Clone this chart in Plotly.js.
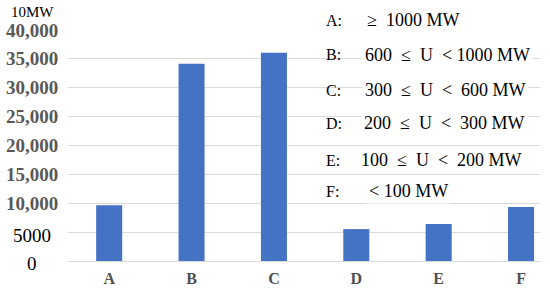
<!DOCTYPE html>
<html>
<head>
<meta charset="utf-8">
<script src="https://cdn.plot.ly/plotly-3.0.1.min.js"></script>
<style>html,body{margin:0;padding:0;background:#fff;}#chart{width:550px;height:295px;}</style>
</head>
<body>
<div id="chart"></div>
<script>
var categories = ['A', 'B', 'C', 'D', 'E', 'F'];
var capacity = [9600, 34000, 35900, 5500, 6400, 9300];
var tickValues = [0, 5000, 10000, 15000, 20000, 25000, 30000, 35000, 40000];
var tickLabels = ['0', '5000', '10,000', '15,000', '20,000', '25,000', '30,000', '35,000', '40,000'];
var unitLabel = '10MW';
var classLetters = ['A:', 'B:', 'C:', 'D:', 'E:', 'F:'];
var classRanges = [
  '\u2265\u00a0\u00a01000 MW',
  '600\u00a0\u00a0\u2264\u00a0\u00a0U\u00a0\u00a0<\u00a01000 MW',
  '300\u00a0\u00a0\u2264\u00a0\u00a0U\u00a0\u00a0<\u00a0\u00a0600 MW',
  '200\u00a0\u00a0\u2264\u00a0\u00a0U\u00a0\u00a0<\u00a0\u00a0300 MW',
  '100\u00a0\u00a0\u2264\u00a0\u00a0U\u00a0\u00a0<\u00a0\u00a0200 MW',
  '<\u00a0100 MW'
];

var W = 550, H = 295, L = 68, R = 10, T = 29, B = 34;
var pw = W - L - R, ph = H - T - B;
function px(x) { return (x - L) / pw; }
function py(y) { return (H - B - y) / ph; }

var serif = '"Liberation Serif", "Times New Roman", serif';
var annotations = [];

tickValues.forEach(function (v, i) {
  var bold = v >= 10000;
  annotations.push({
    xref: 'paper', yref: 'y', x: px(32), y: v, xanchor: 'center', yanchor: 'middle',
    text: bold ? '<b>' + tickLabels[i] + '</b>' : tickLabels[i],
    showarrow: false,
    font: {family: serif, size: 19, color: bold ? '#595959' : '#000000'},
    yshift: v === 5000 ? -3 : (v === 0 ? -2 : (v === 40000 ? -1 : 0))
  });
});

annotations.push({
  xref: 'paper', yref: 'paper', x: px(32), y: py(12), xanchor: 'center', yanchor: 'middle',
  text: unitLabel, showarrow: false, font: {family: serif, size: 15, color: '#000000'}
});

var rowY = [20, 55, 90, 123, 160, 191];
var rangeX = [364, 362, 362, 361, 358, 366];
classLetters.forEach(function (t, i) {
  annotations.push({
    xref: 'paper', yref: 'paper', x: px(324), y: py(rowY[i]), xanchor: 'left', yanchor: 'middle',
    text: t, showarrow: false, font: {family: serif, size: 16, color: '#000000'}
  });
  annotations.push({
    xref: 'paper', yref: 'paper', x: px(rangeX[i]), y: py(rowY[i]), xanchor: 'left', yanchor: 'middle',
    text: classRanges[i], showarrow: false, bgcolor: '#ffffff', borderpad: 2,
    font: {family: serif, size: 18, color: '#000000'}
  });
});

var trace = {
  type: 'bar', x: categories, y: capacity,
  marker: {color: '#4472C4'},
  hoverinfo: 'x+y'
};

var layout = {
  width: W, height: H,
  margin: {l: L, r: R, t: T, b: B, pad: 0},
  paper_bgcolor: '#ffffff', plot_bgcolor: '#ffffff',
  showlegend: false,
  bargap: 0.684,
  xaxis: {
    type: 'category', range: [-0.5, 5.23],
    showgrid: false, zeroline: false, showline: false, ticks: '',
    tickfont: {family: serif, size: 16, color: '#505050', weight: 'bold'},
    ticklabelstandoff: 6
  },
  yaxis: {
    range: [0, 40000], tickvals: tickValues, showticklabels: false,
    showgrid: true, gridcolor: '#d9d9d9', gridwidth: 1,
    zeroline: true, zerolinecolor: '#d9d9d9', zerolinewidth: 1, showline: false, ticks: ''
  },
  annotations: annotations
};

Plotly.newPlot('chart', [trace], layout, {displayModeBar: false, staticPlot: true});
</script>
</body>
</html>
